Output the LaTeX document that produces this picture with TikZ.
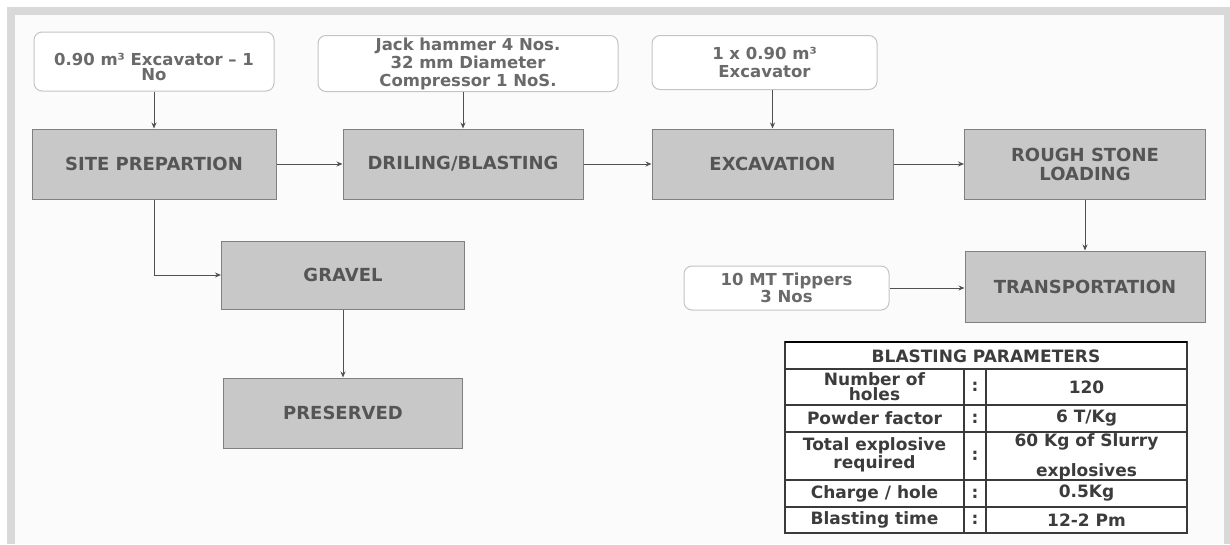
\documentclass[tikz,border=0pt]{standalone}
\usepackage{fontspec}
\setmainfont{DejaVu Sans}
\usetikzlibrary{arrows.meta}
\definecolor{framec}{HTML}{D9D9D9}
\definecolor{innerc}{HTML}{FBFBFB}
\definecolor{boxfill}{HTML}{C8C8C8}
\definecolor{boxline}{HTML}{808080}
\definecolor{boxtext}{HTML}{555555}
\definecolor{roundline}{HTML}{C4C4C4}
\definecolor{roundtext}{HTML}{6A6A6A}
\definecolor{arrowc}{HTML}{505050}
\definecolor{tabtext}{HTML}{3C3C3C}
\definecolor{tabline}{HTML}{3A3A3A}
\begin{document}
\begin{tikzpicture}[x=1pt,y=-1pt,
  graybox/.style={draw=boxline,fill=boxfill,line width=1pt,inner sep=0pt,align=center,text=boxtext,font=\fontsize{18}{19}\selectfont\bfseries},
  roundbox/.style={draw=roundline,fill=white,rounded corners=8pt,line width=1pt,inner sep=0pt,align=center,text=roundtext,font=\fontsize{16.5}{18}\selectfont\bfseries},
  roundtxt/.style={inner sep=0pt,align=center,text=roundtext,font=\fontsize{16.5}{14.5}\selectfont\bfseries},
  conn/.style={draw=arrowc,line width=1pt,-{Stealth[length=6pt,width=5pt]}},
  cell/.style={inner sep=0pt,align=center,text=tabtext,font=\fontsize{17}{15}\selectfont\bfseries},
  tl/.style={draw=tabline,line width=1.2pt}]
\useasboundingbox (0,0) rectangle (1230,544);
\fill[white] (0,0) rectangle (1230,544);
\fill[framec] (7,7) rectangle (1230,544);
\fill[innerc] (15,15) rectangle (1224,544);

% top rounded boxes
\node[roundbox,minimum width=240pt,minimum height=59pt] (b1) at (154,61.5) {};
\node[roundtxt] (b1t) at (154,67) {0.90 m³ Excavator – 1\\No};
\node[roundbox,minimum width=300pt,minimum height=56pt] (b2) at (468,63.5) {Jack hammer 4 Nos.\\32 mm Diameter\\Compressor 1 NoS.};
\node[roundbox,minimum width=225pt,minimum height=54pt] (b3) at (764.5,62.5) {1 x 0.90 m³\\Excavator};

% process boxes
\node[graybox,minimum width=244pt,minimum height=70pt] (site) at (154,164) {SITE PREPARTION};
\node[graybox,minimum width=240pt,minimum height=70pt] (drill) at (463,164) {DRILING/BLASTING};
\node[graybox,minimum width=241pt,minimum height=70pt] (excav) at (772.5,164) {EXCAVATION};
\node[graybox,minimum width=241pt,minimum height=70pt] (rough) at (1085,164) {ROUGH STONE\\LOADING};
\node[graybox,minimum width=243pt,minimum height=68pt] (gravel) at (343,275) {GRAVEL};
\node[graybox,minimum width=239pt,minimum height=70pt] (preserved) at (343,413) {PRESERVED};
\node[graybox,minimum width=240pt,minimum height=71pt] (transport) at (1085,286.5) {TRANSPORTATION};
\node[roundbox,minimum width=205pt,minimum height=44pt,font=\fontsize{16.5}{17}\selectfont\bfseries] (tippers) at (786.5,288) {10 MT Tippers\\3 Nos};

% connectors
\draw[conn] (b1.south) -- (site.north);
\draw[conn] (drill.north |- b2.south) -- (drill.north);
\draw[conn] (excav.north |- b3.south) -- (excav.north);
\draw[conn] (site.east) -- (drill.west);
\draw[conn] (drill.east) -- (excav.west);
\draw[conn] (excav.east) -- (rough.west);
\draw[conn] (rough.south) -- (transport.north);
\draw[conn] (tippers.east) -- (tippers.east -| transport.west);
\draw[conn] (site.south) |- (gravel.west);
\draw[conn] (gravel.south) -- (preserved.north);

% table
\fill[white] (785,342) rectangle (1187,533);
\draw[tl] (785,342) rectangle (1187,533);
\draw[draw=black,line width=2.4pt] (785,342) -- (1187,342);
\foreach \yy in {369,405,432,480,507} \draw[tl] (785,\yy) -- (1187,\yy);
\draw[tl] (964,369) -- (964,533);
\draw[tl] (986,369) -- (986,533);

\node[cell] (th) at (986,356) {BLASTING PARAMETERS};
\node[cell] (l1) at (874.5,387) {Number of\\holes};
\node[cell] (c1) at (975,387) {:};
\node[cell] (r1) at (1086.5,387) {120};
\node[cell] (l2) at (874.5,418.5) {Powder factor};
\node[cell] (c2) at (975,418.5) {:};
\node[cell] (r2) at (1086.5,418.5) {6 T/Kg};
\node[cell,font=\fontsize{17}{18}\selectfont\bfseries] (l3) at (874.5,455) {Total explosive\\required};
\node[cell] (c3) at (975,456) {:};
\node[cell,font=\fontsize{17}{30}\selectfont\bfseries] (r3) at (1086.5,457) {60 Kg of Slurry\\explosives};
\node[cell] (l4) at (874.5,493.5) {Charge / hole};
\node[cell] (c4) at (975,493.5) {:};
\node[cell] (r4) at (1086.5,493.5) {0.5Kg};
\node[cell] (l5) at (874.5,520) {Blasting time};
\node[cell] (c5) at (975,520) {:};
\node[cell] (r5) at (1086.5,520) {12-2 Pm};
\end{tikzpicture}
\end{document}
